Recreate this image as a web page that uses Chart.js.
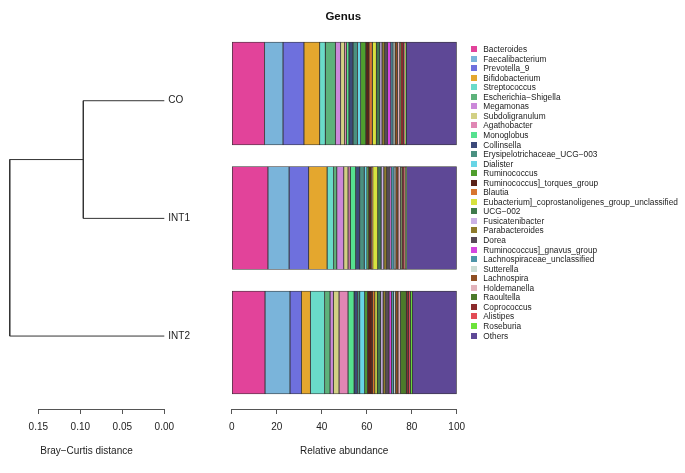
<!DOCTYPE html>
<html>
<head>
<meta charset="utf-8">
<script src="https://cdn.jsdelivr.net/npm/chart.js@4/dist/chart.umd.min.js"></script>
<style>
  html, body { margin: 0; padding: 0; background: #fff; }
  #wrap { position: relative; width: 685px; height: 473px; overflow: hidden; font-family: "Liberation Sans", Arial, sans-serif; color: #222; }
  canvas { position: absolute; left: 0; top: 0; }
  #title { position: absolute; left: 243.3px; width: 200px; top: 9px; text-align: center; font-weight: bold; font-size: 11.5px; line-height: 14px; color: #111; }
  #dendroTitle { position: absolute; left: 0; width: 173px; top: 445px; text-align: center; font-size: 10px; line-height: 12px; }
  #legend { position: absolute; left: 470.7px; top: 0; }
  .item { position: absolute; left: 0; height: 10px; white-space: nowrap; font-size: 8.3px; line-height: 10px; }
  .item i { position: absolute; left: 0; top: 2px; width: 6px; height: 6px; }
  .item span { position: absolute; left: 12.6px; top: 0; }
</style>
</head>
<body>
<div id="wrap">
  <canvas id="bars" width="685" height="473"></canvas>
  <canvas id="dendro" width="685" height="473"></canvas>
  <div id="title">Genus</div>
  <div id="dendroTitle">Bray−Curtis distance</div>
  <div id="legend"></div>
</div>
<script>
const samples = ['CO', 'INT1', 'INT2'];
const genera = ['Bacteroides', 'Faecalibacterium', 'Prevotella_9', 'Bifidobacterium', 'Streptococcus',
  'Escherichia−Shigella', 'Megamonas', 'Subdoligranulum', 'Agathobacter', 'Monoglobus', 'Collinsella',
  'Erysipelotrichaceae_UCG−003', 'Dialister', 'Ruminococcus', 'Ruminococcus]_torques_group', 'Blautia',
  'Eubacterium]_coprostanoligenes_group_unclassified', 'UCG−002', 'Fusicatenibacter', 'Parabacteroides',
  'Dorea', 'Ruminococcus]_gnavus_group', 'Lachnospiraceae_unclassified', 'Sutterella', 'Lachnospira',
  'Holdemanella', 'Raoultella', 'Coprococcus', 'Alistipes', 'Roseburia', 'Others'];
const colors = ['#E2439A', '#7AB4DA', '#6E70DD', '#E4A72E', '#6ADBC9', '#5DB27A', '#CB88D9', '#D2D084',
  '#E086B4', '#56E18F', '#3C4A7A', '#4A9080', '#68D5E6', '#4F9E2E', '#5A2218', '#D8752E', '#D7E23E',
  '#3F7A4C', '#CBB2E6', '#8E7B2C', '#574A57', '#D646E0', '#4E95A8', '#CCDDD4', '#8E4E22', '#E2B2BA',
  '#4C7A2A', '#8B2A2C', '#E24B55', '#6CE33A', '#5E4896'];
// relative abundance (%) per genus, same order as genera
const abundCO = [14.6, 8.2, 9.3, 7.0, 2.5, 4.5, 2.3, 1.8, 0.8, 1.1, 1.8, 2.0, 1.4, 2.3, 1.4, 1.5, 1.8, 1.5, 1.0,
  1.2, 1.2, 1.5, 1.0, 0.9, 1.1, 1.0, 0.4, 1.3, 0.6, 0.6, 22.4];
const abundINT1 = [16.1, 9.4, 8.7, 8.2, 2.9, 1.4, 3.1, 1.9, 1.0, 2.4, 1.8, 2.0, 1.2, 0.8, 1.2, 0.6, 2.2, 1.5, 1.2,
  1.3, 1.2, 0.7, 1.4, 0.7, 1.0, 1.1, 0.7, 0.9, 0.6, 0.5, 22.3];
const abundINT2 = [14.8, 11.1, 5.1, 4.0, 6.3, 2.4, 1.5, 2.5, 4.0, 2.7, 1.5, 1.0, 2.2, 1.2, 2.2, 1.1, 1.1, 1.5, 1.1,
  1.1, 1.5, 1.1, 1.0, 0.8, 1.1, 1.1, 2.6, 0.9, 0.9, 0.9, 19.7];
const abundTicks = [0, 20, 40, 60, 80, 100];
const distTicks = [0.15, 0.10, 0.05, 0.00];
// merge heights: CO+INT1, then with INT2
const mergeHeights = [0.0964, 0.184];

const FONT = '"Liberation Sans", Arial, sans-serif';
const AXIS = '#555';

// legend
const legend = document.getElementById('legend');
genera.forEach((g, i) => {
  const d = document.createElement('div');
  d.className = 'item';
  d.style.top = (49 - 5 + i * 9.55) + 'px';
  d.innerHTML = `<i style="background:${colors[i]}"></i><span>${g}</span>`;
  legend.appendChild(d);
});

function bottomAxis(ticks, fmt, title) {
  return {
    type: 'linear', position: 'bottom', offset: false,
    afterBuildTicks: s => { s.ticks = ticks.map(v => ({ value: v })); },
    afterFit: s => { s.height = 64; },
    grid: { drawOnChartArea: false, drawTicks: true, tickLength: 5, color: AXIS },
    border: { display: true, color: AXIS },
    ticks: { padding: 7, color: '#222', font: { family: FONT, size: 10 }, maxRotation: 0, callback: fmt },
    title: { display: !!title, text: title, color: '#222', font: { family: FONT, size: 10 }, padding: { top: 0, bottom: 16 } }
  };
}

// stacked bars
const abund = [abundCO, abundINT1, abundINT2];
new Chart(document.getElementById('bars'), {
  type: 'bar',
  data: {
    datasets: genera.map((g, i) => ({
      label: g,
      data: samples.map((s, j) => ({ x: abund[j][i], y: j + 1 })),
      backgroundColor: colors[i],
      borderColor: '#333',
      borderWidth: 0.8,
      borderSkipped: false,
      barThickness: 103
    }))
  },
  options: {
    responsive: false, animation: false, indexAxis: 'y',
    layout: { padding: { left: 231.7, right: 228.3, top: 31.25, bottom: 0 } },
    plugins: { legend: { display: false }, tooltip: { enabled: false } },
    scales: {
      x: Object.assign(bottomAxis(abundTicks, v => String(v), 'Relative abundance'), { stacked: true, min: 0, max: 100 }),
      y: { type: 'linear', offset: false, stacked: true, reverse: true, min: 0.5, max: 3.534, display: false }
    }
  }
});

// dendrogram
const [h1, h2] = mergeHeights;
const joinY = 1.5;
const branches = [
  [{ x: 0, y: 1 }, { x: h1, y: 1 }, { x: h1, y: 2 }, { x: 0, y: 2 }],
  [{ x: h1, y: joinY }, { x: h2, y: joinY }, { x: h2, y: 3 }, { x: 0, y: 3 }]
];
new Chart(document.getElementById('dendro'), {
  type: 'scatter',
  data: {
    datasets: branches.map(b => ({
      data: b, showLine: true, pointRadius: 0, borderColor: '#333', borderWidth: 1, clip: false, fill: false, tension: 0
    }))
  },
  options: {
    responsive: false, animation: false,
    layout: { padding: { left: 38.3, right: 0, top: 41.9, bottom: 0 } },
    plugins: { legend: { display: false }, tooltip: { enabled: false } },
    scales: {
      x: Object.assign(bottomAxis(distTicks, v => Number(v).toFixed(2), ''), { reverse: true, min: 0, max: 0.15 }),
      y: {
        type: 'linear', position: 'right', reverse: true, min: 0.5, max: 3.62,
        afterBuildTicks: s => { s.ticks = samples.map((n, i) => ({ value: i + 1 })); },
        afterFit: s => { s.width = 685 - 164.3; },
        grid: { display: false, drawTicks: false, tickLength: 0 }, border: { display: false },
        ticks: { padding: 4, color: '#222', font: { family: FONT, size: 10 }, callback: v => samples[v - 1] }
      }
    }
  }
});
</script>
</body>
</html>
